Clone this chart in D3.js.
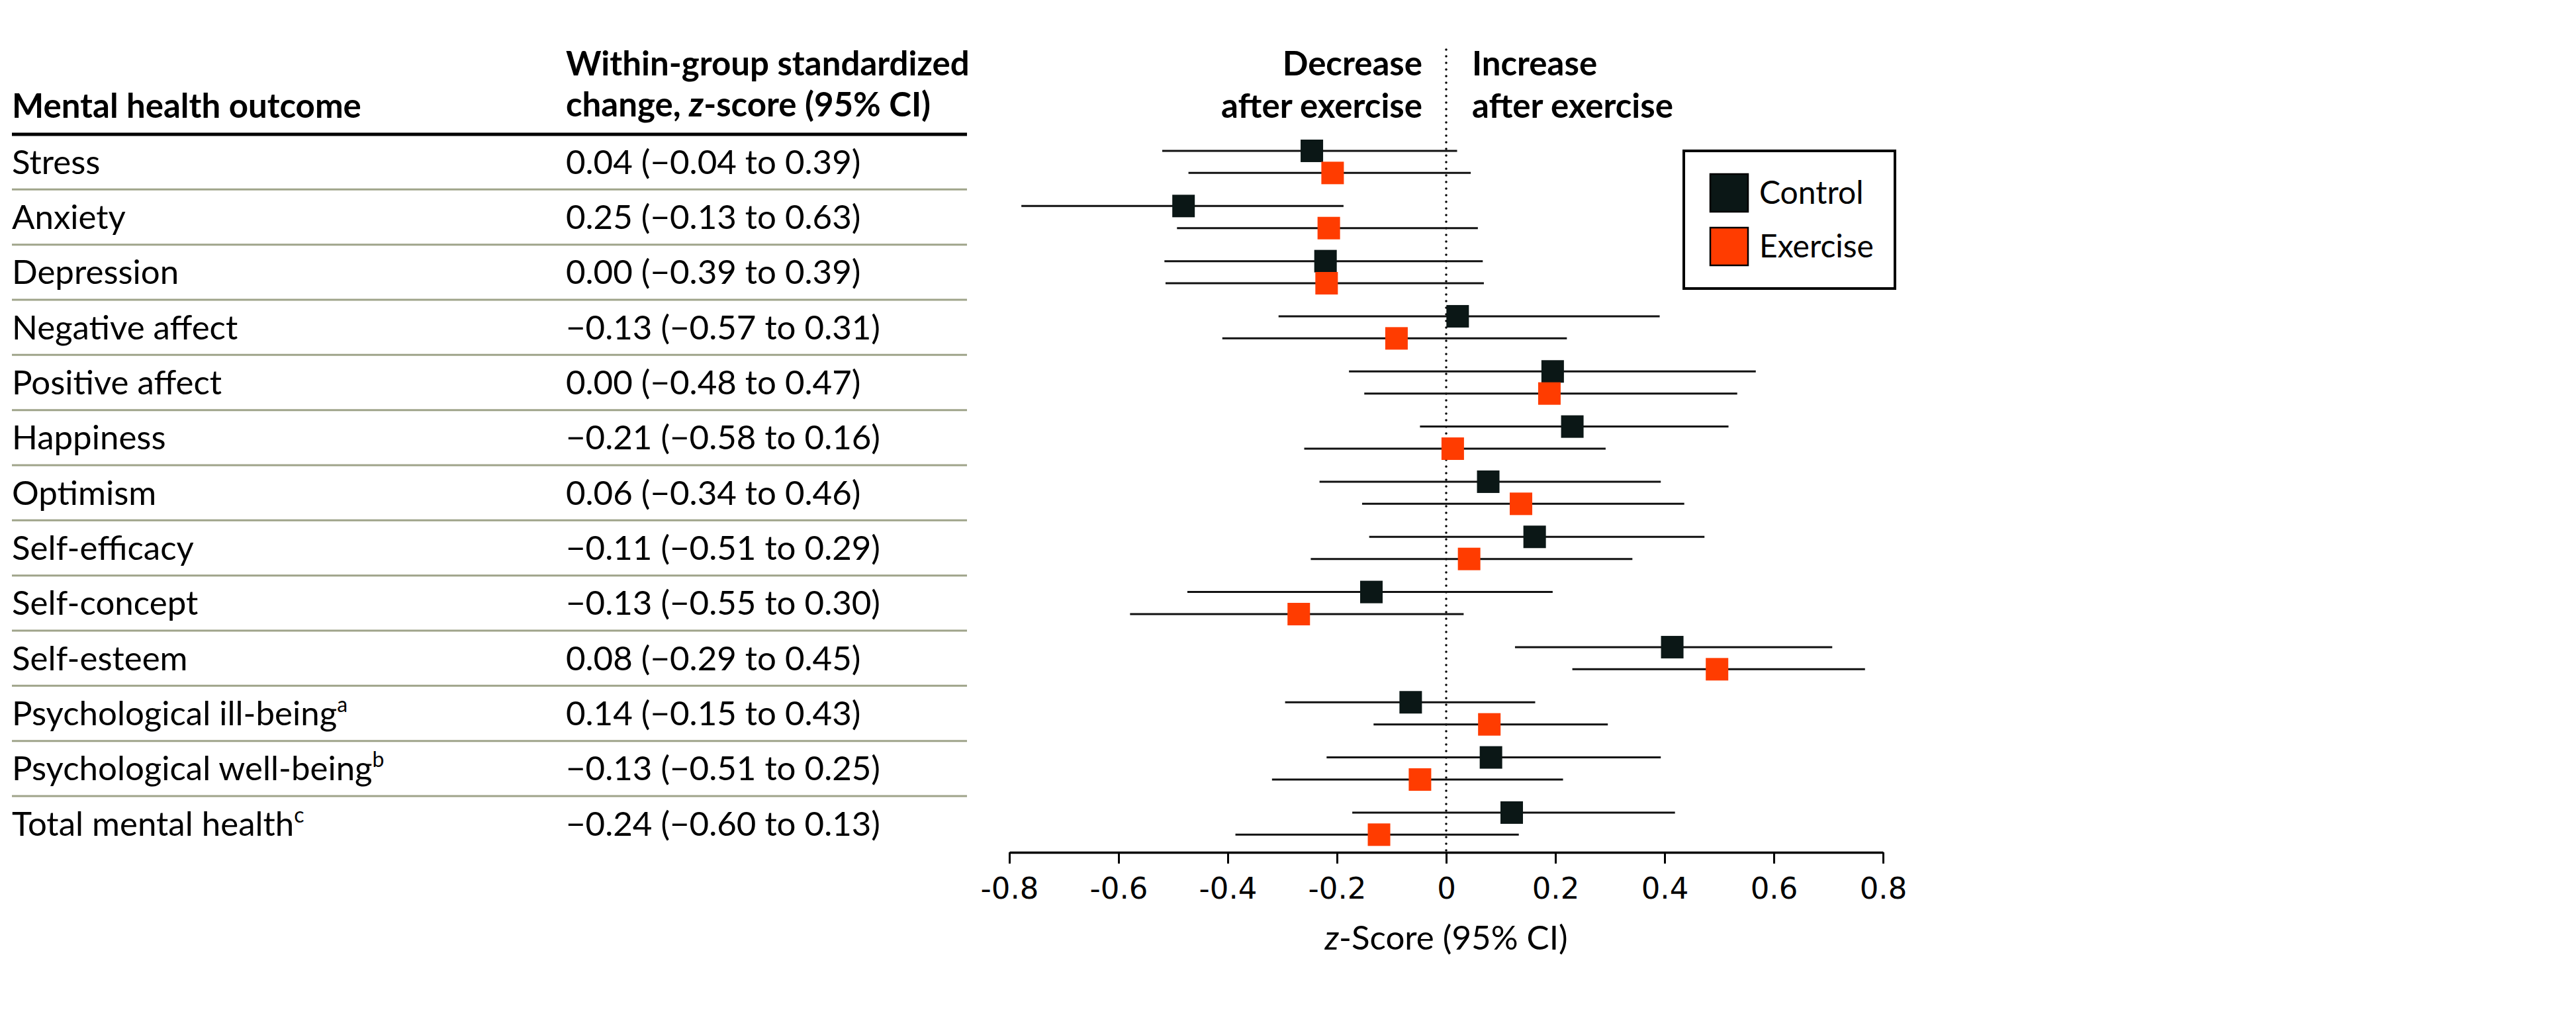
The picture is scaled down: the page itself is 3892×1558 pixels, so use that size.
<!DOCTYPE html>
<html>
<head>
<meta charset="utf-8">
<script src="https://cdn.jsdelivr.net/npm/d3@7"></script>
<style>
  html, body { margin: 0; padding: 0; background: #ffffff; }
  svg { display: block; }
</style>
</head>
<body>
<svg id="chart" width="3892" height="1558"></svg>
<script>
// ---------------- DATA ----------------
const outcomes = ["Stress", "Anxiety", "Depression", "Negative affect", "Positive affect", "Happiness",
  "Optimism", "Self-efficacy", "Self-concept", "Self-esteem", "Psychological ill-being",
  "Psychological well-being", "Total mental health"];
const footnotes = ["", "", "", "", "", "", "", "", "", "", "a", "b", "c"];
const changeText = ["0.04 (−0.04 to 0.39)", "0.25 (−0.13 to 0.63)", "0.00 (−0.39 to 0.39)",
  "−0.13 (−0.57 to 0.31)", "0.00 (−0.48 to 0.47)", "−0.21 (−0.58 to 0.16)", "0.06 (−0.34 to 0.46)",
  "−0.11 (−0.51 to 0.29)", "−0.13 (−0.55 to 0.30)", "0.08 (−0.29 to 0.45)", "0.14 (−0.15 to 0.43)",
  "−0.13 (−0.51 to 0.25)", "−0.24 (−0.60 to 0.13)"];

const controlMean = [-0.246, -0.481, -0.221, 0.021, 0.195, 0.231, 0.077, 0.162, -0.137, 0.414, -0.065, 0.082, 0.120];
const controlLow  = [-0.520, -0.778, -0.516, -0.307, -0.178, -0.048, -0.232, -0.141, -0.474, 0.126, -0.295, -0.219, -0.172];
const controlHigh = [0.020, -0.188, 0.067, 0.391, 0.567, 0.517, 0.393, 0.473, 0.195, 0.707, 0.163, 0.393, 0.419];

const exerciseMean = [-0.208, -0.215, -0.219, -0.091, 0.189, 0.012, 0.137, 0.042, -0.270, 0.496, 0.079, -0.048, -0.123];
const exerciseLow  = [-0.472, -0.493, -0.514, -0.410, -0.150, -0.260, -0.154, -0.248, -0.579, 0.231, -0.133, -0.319, -0.386];
const exerciseHigh = [0.045, 0.058, 0.069, 0.221, 0.533, 0.292, 0.436, 0.341, 0.032, 0.767, 0.296, 0.214, 0.133];

const groups = ["Control", "Exercise"];
const groupColors = ["#0b1716", "#ff3c00"];
const tickValues = [-0.8, -0.6, -0.4, -0.2, 0, 0.2, 0.4, 0.6, 0.8];

// ---------------- LAYOUT ----------------
const svg = d3.select("#chart");
const FONT = "Lato, 'Open Sans', sans-serif";
const tableLeft = 18, tableRight = 1461, valueX = 855;
const rowsTop = 203, rowH = 83.33;

const y = d3.scaleBand().domain(outcomes).range([rowsTop, rowsTop + rowH * outcomes.length]).padding(0);
const x = d3.scaleLinear().domain([-0.8, 0.8]).range([1525, 2845]);
const axisY = 1288;
const sq = 34;

// ---------------- TABLE ----------------
const hdr = svg.append("g").attr("font-family", FONT).attr("font-weight", 700).attr("font-size", 51).attr("fill", "#000");
hdr.append("text").attr("x", tableLeft).attr("y", 178).text("Mental health outcome");
hdr.append("text").attr("x", valueX).attr("y", 114).text("Within-group standardized");
const h2 = hdr.append("text").attr("x", valueX).attr("y", 176);
h2.append("tspan").text("change, ");
h2.append("tspan").attr("font-style", "italic").text("z");
h2.append("tspan").text("-score (95% CI)");

svg.append("line").attr("x1", tableLeft).attr("x2", tableRight).attr("y1", rowsTop).attr("y2", rowsTop)
  .attr("stroke", "#000").attr("stroke-width", 5);

const rows = svg.append("g").attr("font-family", FONT).attr("font-size", 51).attr("fill", "#000");
outcomes.forEach((o, i) => {
  const cy = y(o) + y.bandwidth() / 2;
  const t = rows.append("text").attr("x", tableLeft).attr("y", cy + 18);
  t.append("tspan").text(o);
  if (footnotes[i]) t.append("tspan").attr("font-size", 32).attr("dy", -20).text(footnotes[i]);
  rows.append("text").attr("x", valueX).attr("y", cy + 18).text(changeText[i]);
  if (i < outcomes.length - 1) {
    svg.append("line").attr("x1", tableLeft).attr("x2", tableRight)
      .attr("y1", y(o) + y.bandwidth()).attr("y2", y(o) + y.bandwidth())
      .attr("stroke", "#9fa48a").attr("stroke-width", 3);
  }
});

// ---------------- PLOT ----------------
// zero reference line (dotted)
svg.append("line").attr("x1", x(0)).attr("x2", x(0)).attr("y1", 75).attr("y2", axisY)
  .attr("stroke", "#000").attr("stroke-width", 3.5).attr("stroke-linecap", "round")
  .attr("stroke-dasharray", "0,10");

// direction labels
const dir = svg.append("g").attr("font-family", FONT).attr("font-weight", 700).attr("font-size", 51).attr("fill", "#000");
dir.append("text").attr("x", x(0) - 36).attr("y", 114).attr("text-anchor", "end").text("Decrease");
dir.append("text").attr("x", x(0) - 36).attr("y", 178).attr("text-anchor", "end").text("after exercise");
dir.append("text").attr("x", x(0) + 39).attr("y", 114).text("Increase");
dir.append("text").attr("x", x(0) + 39).attr("y", 178).text("after exercise");

const series = [
  { mean: controlMean, lo: controlLow, hi: controlHigh, off: -16.7, color: groupColors[0] },
  { mean: exerciseMean, lo: exerciseLow, hi: exerciseHigh, off: 16.7, color: groupColors[1] }
];
const marks = svg.append("g");
series.forEach(s => {
  outcomes.forEach((o, i) => {
    const cy = y(o) + y.bandwidth() / 2 + s.off;
    marks.append("line").attr("x1", x(s.lo[i])).attr("x2", x(s.hi[i])).attr("y1", cy).attr("y2", cy)
      .attr("stroke", "#111").attr("stroke-width", 3);
  });
});
series.forEach(s => {
  outcomes.forEach((o, i) => {
    const cy = y(o) + y.bandwidth() / 2 + s.off;
    marks.append("rect").attr("x", x(s.mean[i]) - sq / 2).attr("y", cy - sq / 2)
      .attr("width", sq).attr("height", sq).attr("fill", s.color);
  });
});

// axis
const axis = d3.axisBottom(x).tickValues(tickValues).tickSize(17).tickSizeOuter(0)
  .tickFormat(d => d === 0 ? "0" : d.toFixed(1));
const ax = svg.append("g").attr("transform", `translate(0,${axisY})`).call(axis);
ax.select(".domain").attr("stroke", "#000").attr("stroke-width", 3.5);
ax.selectAll(".tick line").attr("stroke", "#000").attr("stroke-width", 3);
ax.selectAll(".tick text").attr("font-family", "'DejaVu Sans', sans-serif").attr("font-size", 45)
  .attr("fill", "#000").attr("dy", 0).attr("y", 70);

const at = svg.append("text").attr("x", x(0)).attr("y", 1435).attr("text-anchor", "middle")
  .attr("font-family", FONT).attr("font-size", 51).attr("fill", "#000");
at.append("tspan").attr("font-style", "italic").text("z");
at.append("tspan").text("-Score (95% CI)");

// legend
const lg = svg.append("g");
lg.append("rect").attr("x", 2544).attr("y", 228).attr("width", 319).attr("height", 208)
  .attr("fill", "#fff").attr("stroke", "#000").attr("stroke-width", 4);
groups.forEach((g, i) => {
  const top = 263 + i * 81;
  lg.append("rect").attr("x", 2584).attr("y", top).attr("width", 57).attr("height", 57)
    .attr("fill", groupColors[i]).attr("stroke", "#000").attr("stroke-width", 2.5);
  lg.append("text").attr("x", 2658).attr("y", top + 45).attr("font-family", FONT).attr("font-size", 48)
    .attr("fill", "#000").text(g);
});
</script>
</body>
</html>
